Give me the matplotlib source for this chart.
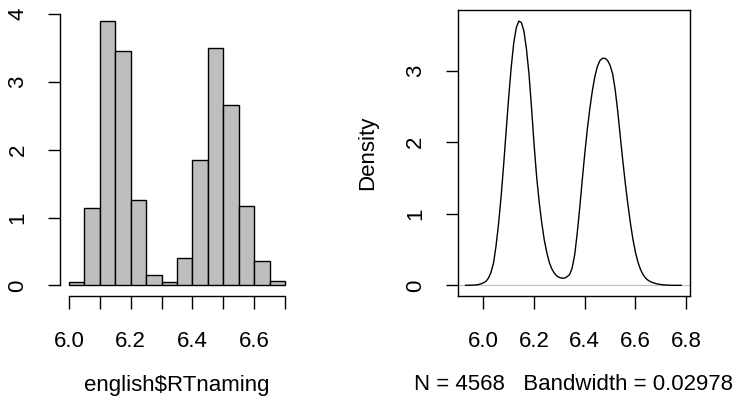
import matplotlib
matplotlib.use("Agg")
import matplotlib.pyplot as plt

plt.rcParams["font.family"] = ["Liberation Sans", "DejaVu Sans"]

# ── data ──────────────────────────────────────────────────────
bin_edges = [6.00, 6.05, 6.10, 6.15, 6.20, 6.25, 6.30, 6.35,
             6.40, 6.45, 6.50, 6.55, 6.60, 6.65, 6.70]
bin_density = [0.054, 1.146, 3.906, 3.459, 1.264, 0.153, 0.044,
               0.408, 1.845, 3.498, 2.657, 1.176, 0.359, 0.064]

kde_x = [5.93, 5.94, 5.95, 5.96, 5.97, 5.98, 5.99, 6.00, 6.01, 6.02,
         6.03, 6.04, 6.05, 6.06, 6.07, 6.08, 6.09, 6.10, 6.11, 6.12,
         6.13, 6.14, 6.15, 6.16, 6.17, 6.18, 6.19, 6.20, 6.21, 6.22,
         6.23, 6.24, 6.25, 6.26, 6.27, 6.28, 6.29, 6.30, 6.31, 6.32,
         6.33, 6.34, 6.35, 6.36, 6.37, 6.38, 6.39, 6.40, 6.41, 6.42,
         6.43, 6.44, 6.45, 6.46, 6.47, 6.48, 6.49, 6.50, 6.51, 6.52,
         6.53, 6.54, 6.55, 6.56, 6.57, 6.58, 6.59, 6.60, 6.61, 6.62,
         6.63, 6.64, 6.65, 6.66, 6.67, 6.68, 6.69, 6.70, 6.71, 6.72,
         6.73, 6.74, 6.75, 6.76, 6.77, 6.78]
kde_y = [0.000, 0.001, 0.002, 0.003, 0.005, 0.010, 0.020, 0.035, 0.055, 0.10,
         0.18, 0.31, 0.55, 0.86, 1.24, 1.68, 2.16, 2.63, 3.05, 3.39,
         3.60, 3.69, 3.67, 3.55, 3.30, 2.95, 2.48, 1.97, 1.52, 1.17,
         0.88, 0.64, 0.46, 0.32, 0.23, 0.17, 0.13, 0.11, 0.10, 0.10,
         0.12, 0.15, 0.24, 0.42, 0.72, 1.08, 1.47, 1.84, 2.18, 2.47,
         2.72, 2.92, 3.06, 3.14, 3.17, 3.17, 3.14, 3.07, 2.95, 2.73,
         2.43, 2.08, 1.74, 1.42, 1.13, 0.87, 0.64, 0.46, 0.32, 0.22,
         0.15, 0.10, 0.07, 0.05, 0.035, 0.025, 0.017, 0.011, 0.007, 0.004,
         0.002, 0.001, 0.000, 0.000, 0.000, 0.000]

hist_xticks = [6.0, 6.1, 6.2, 6.3, 6.4, 6.5, 6.6, 6.7]
hist_xlabels = ["6.0", "", "6.2", "", "6.4", "", "6.6", ""]
hist_yticks = [0, 1, 2, 3, 4]
kde_xticks = [6.0, 6.2, 6.4, 6.6, 6.8]
kde_yticks = [0, 1, 2, 3]

FS = 16
LW = 1.0
GREY = "#BEBEBE"
XLAB_Y = 385   # pixel row of the x-axis titles

fig = plt.figure(figsize=(7.33, 4.04), dpi=100)
W, H = 733, 404


def px_axes(x0, y0, x1, y1):
    return fig.add_axes([x0 / W, 1 - y1 / H, (x1 - x0) / W, (y1 - y0) / H])


def style_ticks(ax):
    ax.tick_params(axis="both", direction="out", length=9, width=LW,
                   labelsize=FS, colors="black")
    ax.tick_params(axis="x", pad=16)
    ax.tick_params(axis="y", pad=14)
    for lab in ax.get_yticklabels():
        lab.set_rotation(90)
        lab.set_va("center")


# ── left: histogram ───────────────────────────────────────────
ax1 = px_axes(60.4, 10.1, 293.6, 295.9)
widths = [b - a for a, b in zip(bin_edges[:-1], bin_edges[1:])]
ax1.bar(bin_edges[:-1], bin_density, width=widths, align="edge",
        color=GREY, edgecolor="black", linewidth=LW)
ax1.set_xlim(5.972, 6.728)
ax1.set_ylim(-0.156, 4.062)
for s in ("top", "right"):
    ax1.spines[s].set_visible(False)
ax1.spines["left"].set_bounds(0, 4)
ax1.spines["bottom"].set_bounds(6.0, 6.7)
for s in ("left", "bottom"):
    ax1.spines[s].set_linewidth(LW)
ax1.set_xticks(hist_xticks)
ax1.set_xticklabels(hist_xlabels)
ax1.set_yticks(hist_yticks)
ax1.set_yticklabels([str(v) for v in hist_yticks])
style_ticks(ax1)
ax1.set_xlabel("english$RTnaming", fontsize=FS, va="center")
ax1.xaxis.set_label_coords(0.5, (295.9 - XLAB_Y) / 285.8)

# ── right: density ────────────────────────────────────────────
ax2 = px_axes(458, 10, 690, 296)
ax2.axhline(0, color=GREY, linewidth=0.8, zorder=1)
ax2.plot(kde_x, kde_y, color="black", linewidth=LW, zorder=2)
ax2.set_xlim(5.900, 6.815)
ax2.set_ylim(-0.149, 3.845)
for s in ax2.spines.values():
    s.set_linewidth(LW)
ax2.set_xticks(kde_xticks)
ax2.set_xticklabels([f"{v:.1f}" for v in kde_xticks])
ax2.set_yticks(kde_yticks)
ax2.set_yticklabels([str(v) for v in kde_yticks])
style_ticks(ax2)
ax2.set_xlabel("N = 4568   Bandwidth = 0.02978", fontsize=FS, va="center")
ax2.xaxis.set_label_coords(0.5, (296 - XLAB_Y) / 286)
ax2.set_ylabel("Density", fontsize=FS, va="center")
ax2.yaxis.set_label_coords((368 - 458) / 232, 0.5)

fig.savefig("out.png", dpi=100, facecolor="white")
